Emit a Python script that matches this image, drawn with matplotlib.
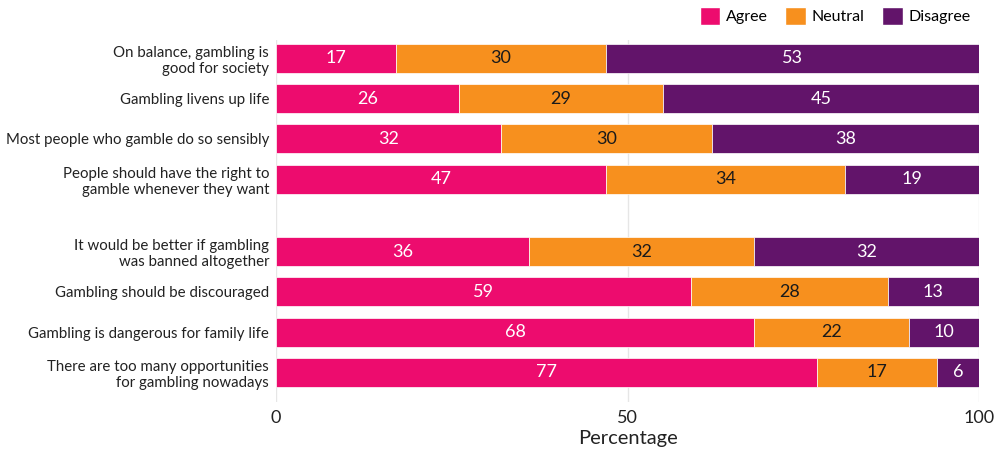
import matplotlib
matplotlib.use("Agg")
import matplotlib.pyplot as plt
import numpy as np
from matplotlib.patches import Patch

plt.rcParams['font.family'] = ['Lato', 'DejaVu Sans']

# data
statements = [
    "On balance, gambling is\ngood for society",
    "Gambling livens up life",
    "Most people who gamble do so sensibly",
    "People should have the right to\ngamble whenever they want",
    "It would be better if gambling\nwas banned altogether",
    "Gambling should be discouraged",
    "Gambling is dangerous for family life",
    "There are too many opportunities\nfor gambling nowadays",
]
agree = [17, 26, 32, 47, 36, 59, 68, 77]
neutral = [30, 29, 30, 34, 32, 28, 22, 17]
disagree = [53, 45, 38, 19, 32, 13, 10, 6]
positions = [0, 1, 2, 3, 4.8, 5.8, 6.8, 7.8]

series = [("Agree", agree, "#ED0C6E", "white"),
          ("Neutral", neutral, "#F7901E", "#1a1a1a"),
          ("Disagree", disagree, "#62146A", "white")]

fig = plt.figure(figsize=(10, 4.63), dpi=100)
ax = fig.add_axes([0.276, 0.132, 0.703, 0.782])

left = np.zeros(len(agree))
for name, vals, col, tcol in series:
    vals = np.array(vals)
    bars = ax.barh(positions, vals, left=left, height=0.72, color=col,
                   edgecolor='white', linewidth=0.5, zorder=3)
    for b, v in zip(bars, vals):
        ax.text(b.get_x() + b.get_width() / 2, b.get_y() + b.get_height() / 2,
                str(v), ha='center', va='center', color=tcol, fontsize=13, zorder=4)
    left += vals

ax.set_xlim(0, 100)
ax.set_ylim(8.53, -0.46)
ax.set_xticks([0, 50, 100])
ax.set_xticklabels(["0", "50", "100"], fontsize=13, color='#222222')
ax.set_yticks(positions)
ax.set_yticklabels(statements, fontsize=10.8, color='#222222', linespacing=1.2)
ax.tick_params(axis='both', length=0)
ax.tick_params(axis='y', pad=5)
ax.tick_params(axis='x', pad=6)
ax.set_xlabel("Percentage", fontsize=14.5, color='#222222', labelpad=3)
ax.grid(axis='x', color='#e6e6e6', linewidth=1, zorder=0)
for s in ax.spines.values():
    s.set_visible(False)

handles = [Patch(facecolor=c, edgecolor='white', label=n) for n, _, c, _ in series]
fig.legend(handles=handles, loc='upper right', bbox_to_anchor=(0.985, 1.015), ncol=3,
           frameon=False, fontsize=11.5, handlelength=1.3, handleheight=1.3,
           handletextpad=0.35, columnspacing=1.1)

fig.savefig("out.png", dpi=100)
